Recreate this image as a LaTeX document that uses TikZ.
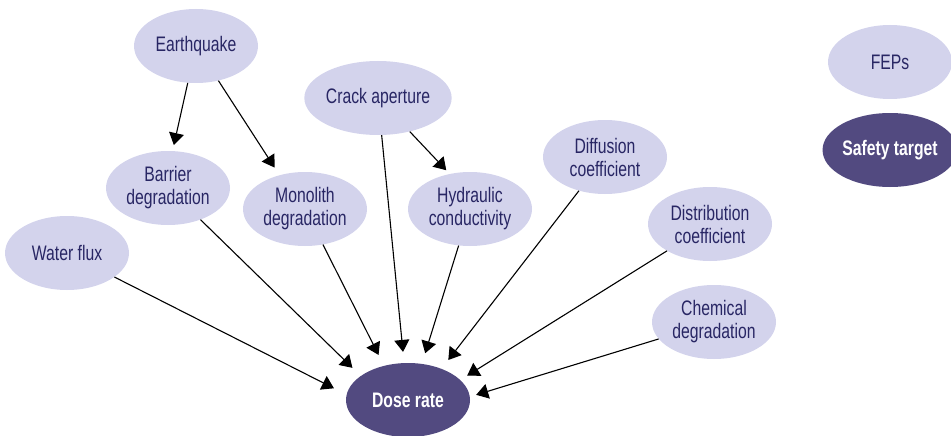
\documentclass[tikz,border=0pt]{standalone}
\usepackage{fontspec}
\setmainfont{Liberation Sans}[FakeStretch=0.75]
\usetikzlibrary{arrows.meta,shapes.geometric}
\definecolor{fepfill}{RGB}{211,211,236}
\definecolor{targetfill}{RGB}{82,74,128}
\definecolor{feptext}{RGB}{40,38,100}
\tikzset{
  fep/.style={ellipse, fill=fepfill, draw=none, minimum width=124pt, minimum height=74pt,
    inner sep=0pt, align=center, text=feptext, font=\fontsize{21}{23}\selectfont},
  target/.style={ellipse, fill=targetfill, draw=none, minimum width=124pt, minimum height=74pt,
    inner sep=0pt, align=center, text=white, font=\fontsize{21}{23}\selectfont\bfseries},
  link/.style={line width=1.1pt, -{Triangle[length=12pt,width=15pt]}}
}
\begin{document}
\begin{tikzpicture}[x=1pt,y=-1pt]
\useasboundingbox (0,0) rectangle (951,436);
\node[fep] (eq) at (196,46) {Earthquake};
\node[fep] (crack) at (378,98) {Crack aperture};
\node[fep] (barrier) at (168,188) {Barrier\\degradation};
\node[fep] (mono) at (305,209) {Monolith\\degradation};
\node[fep] (hyd) at (470,209) {Hydraulic\\conductivity};
\node[fep] (diff) at (605,157) {Diffusion\\coefficient};
\node[fep] (dist) at (710,224) {Distribution\\coefficient};
\node[fep] (water) at (67,253) {Water flux};
\node[fep] (chem) at (714,322) {Chemical\\degradation};
\node[target] (dose) at (408,400) {Dose rate};
\node[fep] (legfep) at (890,62) {FEPs};
\node[target] (legtarget) at (890,150) {Safety target};

\draw[link, shorten >=6pt] (eq) -- (barrier.83);
\draw[link, shorten >=9pt] (eq) -- (mono.127);
\draw[link, shorten >=5pt] (crack) -- (hyd.120);

\draw[link, shorten >=14pt] (water) -- (dose.175);
\draw[link, shorten >=11.5pt] (barrier) -- (dose.153);
\draw[link, shorten >=12pt] (mono) -- (dose.125);
\draw[link, shorten >=11pt] (crack) -- (dose.96);
\draw[link, shorten >=11pt] (hyd) -- (dose.69);
\draw[link, shorten >=11pt] (diff) -- (dose.43);
\draw[link, shorten >=8pt] (dist) -- (dose.21);
\draw[link, shorten >=6.5pt] (chem) -- (dose.3);
\end{tikzpicture}
\end{document}
